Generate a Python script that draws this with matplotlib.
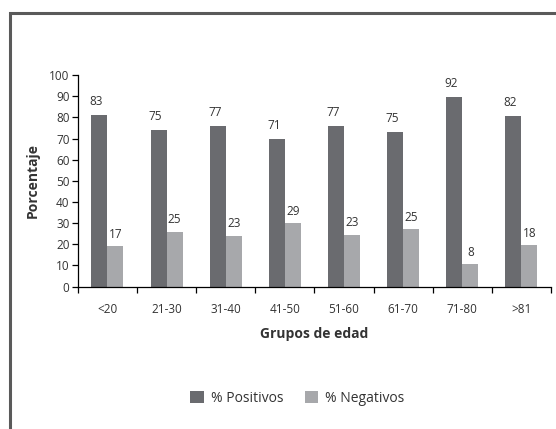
import numpy as np
import matplotlib
matplotlib.use("Agg")
import matplotlib.pyplot as plt
from matplotlib.patches import Rectangle

plt.rcParams['font.family'] = ['Open Sans', 'DejaVu Sans']

grupos = ['<20', '21-30', '31-40', '41-50', '51-60', '61-70', '71-80', '>81']
# heights as drawn in the picture
positivos = [81, 74, 76, 70, 76, 73, 89.5, 80.5]
negativos = [19, 26, 24, 30, 24.5, 27, 10.5, 19.5]
# labels as printed above the bars
etiq_pos = ['83', '75', '77', '71', '77', '75', '92', '82']
etiq_neg = ['17', '25', '23', '29', '23', '25', '8', '18']

c_pos = '#6a6b6f'
c_neg = '#a7a8ab'

fig = plt.figure(figsize=(5.56, 4.29), dpi=100)
ax = fig.add_axes([0.140, 0.332, 0.851, 0.493])

x = np.arange(len(grupos))
w = 0.27
b1 = ax.bar(x - w/2, positivos, w, color=c_pos, label='% Positivos')
b2 = ax.bar(x + w/2, negativos, w, color=c_neg, label='% Negativos')

for rect, t in zip(b1, etiq_pos):
    ax.annotate(t, (rect.get_x() + rect.get_width()/2 - 0.05, rect.get_height()),
                xytext=(0, 5), textcoords='offset points', ha='center', va='bottom',
                fontsize=8.5, color='#333333')
for rect, t in zip(b2, etiq_neg):
    ax.annotate(t, (rect.get_x() + rect.get_width()/2, rect.get_height()),
                xytext=(0, 4), textcoords='offset points', ha='center', va='bottom',
                fontsize=8.5, color='#333333')

ax.set_xlim(-0.5, len(grupos) - 0.5)
ax.set_ylim(0, 100)
ax.set_yticks(np.arange(0, 101, 10))
ax.set_xticks(x)
ax.set_xticklabels(grupos)
ax.set_xticks(np.arange(-0.5, len(grupos)), minor=True)
ax.tick_params(axis='x', which='major', length=0, pad=12, labelsize=8.5, labelcolor='#333333')
ax.tick_params(axis='x', which='minor', length=4, direction='out', width=0.9)
ax.tick_params(axis='y', length=4, width=0.9, labelsize=8.5, labelcolor='#333333', pad=2)

for s in ['top', 'right']:
    ax.spines[s].set_visible(False)
for s in ['left', 'bottom']:
    ax.spines[s].set_linewidth(0.9)

ax.set_xlabel('Grupos de edad', fontsize=10, fontweight='bold', color='#333333', labelpad=8)
ax.set_ylabel('Porcentaje', fontsize=10, fontweight='bold', color='#333333', labelpad=7)

fig.legend(loc='center', bbox_to_anchor=(0.535, 0.072), ncol=2, frameon=False,
           fontsize=10, handlelength=1.0, handleheight=1.0, columnspacing=1.5,
           handletextpad=0.5, labelcolor='#333333')

# outer frame
fig.add_artist(Rectangle((0.018, -0.02), 1.1, 0.99, transform=fig.transFigure,
                         fill=False, edgecolor='#5a5a5a', linewidth=2.2))

fig.savefig('out.png', dpi=100)
